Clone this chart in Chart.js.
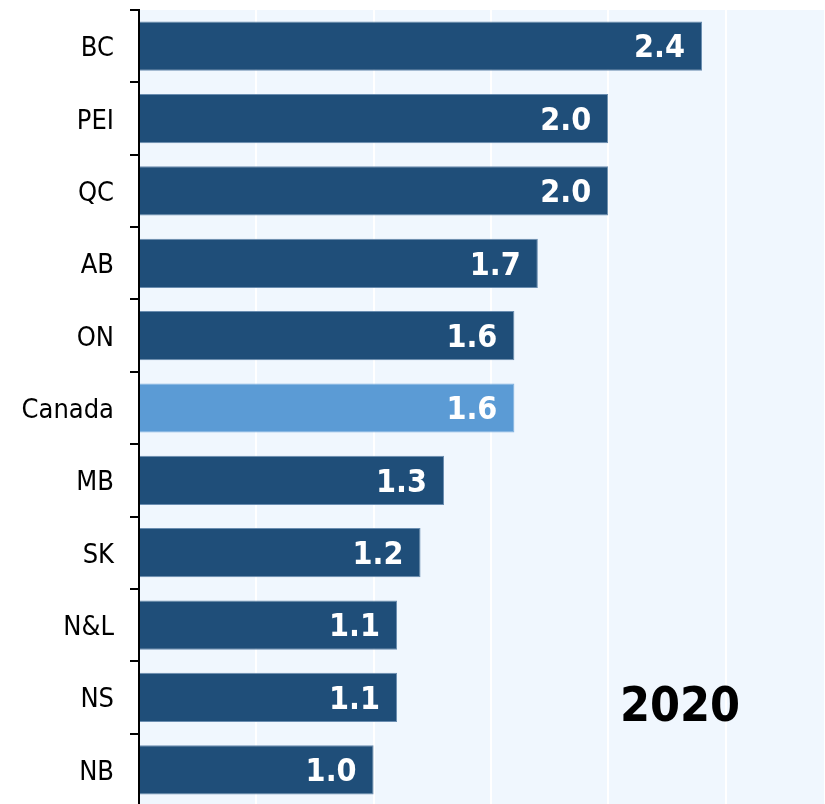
<!DOCTYPE html>
<html>
<head>
<meta charset="utf-8">
<script src="https://cdn.jsdelivr.net/npm/chart.js@4"></script>
<style>
html,body{margin:0;padding:0;background:#fff;overflow:hidden;width:825px;height:804px;}
#wrap{position:relative;width:825px;height:806px;}
</style>
</head>
<body>
<div id="wrap"><canvas id="c"></canvas></div>
<script>
const categories = ["BC","PEI","QC","AB","ON","Canada","MB","SK","N&L","NS","NB"];
const values = [2.4, 2.0, 2.0, 1.7, 1.6, 1.6, 1.3, 1.2, 1.1, 1.1, 1.0];
const highlight = "Canada";
const yearLabel = "2020";

const FONT = "'DejaVu Sans Condensed','DejaVu Sans',sans-serif";
const dark = "#1f4e79";
const light = "#5b9bd5";

const bgPlugin = {
  id: 'bg',
  beforeDraw(chart) {
    const {ctx, chartArea: a} = chart;
    ctx.save();
    ctx.fillStyle = '#f0f7fe';
    ctx.fillRect(a.left, a.top, a.right - a.left, a.bottom - a.top);
    ctx.restore();
  }
};

const labelPlugin = {
  id: 'labels',
  afterDatasetsDraw(chart) {
    const {ctx} = chart;
    const meta = chart.getDatasetMeta(0);
    ctx.save();
    ctx.fillStyle = '#ffffff';
    ctx.font = "bold 32px " + FONT;
    ctx.textAlign = 'right';
    ctx.textBaseline = 'middle';
    meta.data.forEach((bar, i) => {
      ctx.fillText(values[i].toFixed(1), bar.x - 17, bar.y + 3);
    });
    ctx.fillStyle = '#000';
    ctx.font = "bold 48px " + FONT;
    ctx.textAlign = 'center';
    ctx.fillText(yearLabel, 680, 709);
    ctx.restore();
  }
};

new Chart(document.getElementById('c'), {
  type: 'bar',
  data: {
    labels: categories,
    datasets: [{
      data: values,
      backgroundColor: categories.map(c => c === highlight ? light : dark),
      borderColor: categories.map(c => c === highlight ? '#7fb0dd' : '#6a8db0'),
      borderWidth: 1,
      borderSkipped: 'left',
      categoryPercentage: 1,
      barPercentage: 0.68
    }]
  },
  options: {
    indexAxis: 'y',
    responsive: true,
    maintainAspectRatio: false,
    animation: false,
    layout: {padding: {top: 10, right: 0, bottom: 0, left: 0}},
    plugins: {legend: {display: false}, tooltip: {enabled: false}},
    scales: {
      x: {
        min: 0, max: 2.924,
        afterFit(s) { s.height = 0; s.paddingLeft = 0; s.paddingRight = 0; },
        ticks: {display: false, stepSize: 0.5},
        border: {display: false},
        grid: {color: '#ffffff', lineWidth: 2, tickLength: 0, drawTicks: false}
      },
      y: {
        afterFit(s) { s.width = 139; s.paddingTop = 0; s.paddingBottom = 0; },
        ticks: {color: '#000', font: {family: FONT, size: 27}, padding: 16, labelOffset: 3},
        border: {display: true, color: '#000', width: 2},
        grid: {offset: true, drawOnChartArea: false, color: '#000', lineWidth: 2, tickLength: 9}
      }
    }
  },
  plugins: [bgPlugin, labelPlugin]
});
</script>
</body>
</html>
